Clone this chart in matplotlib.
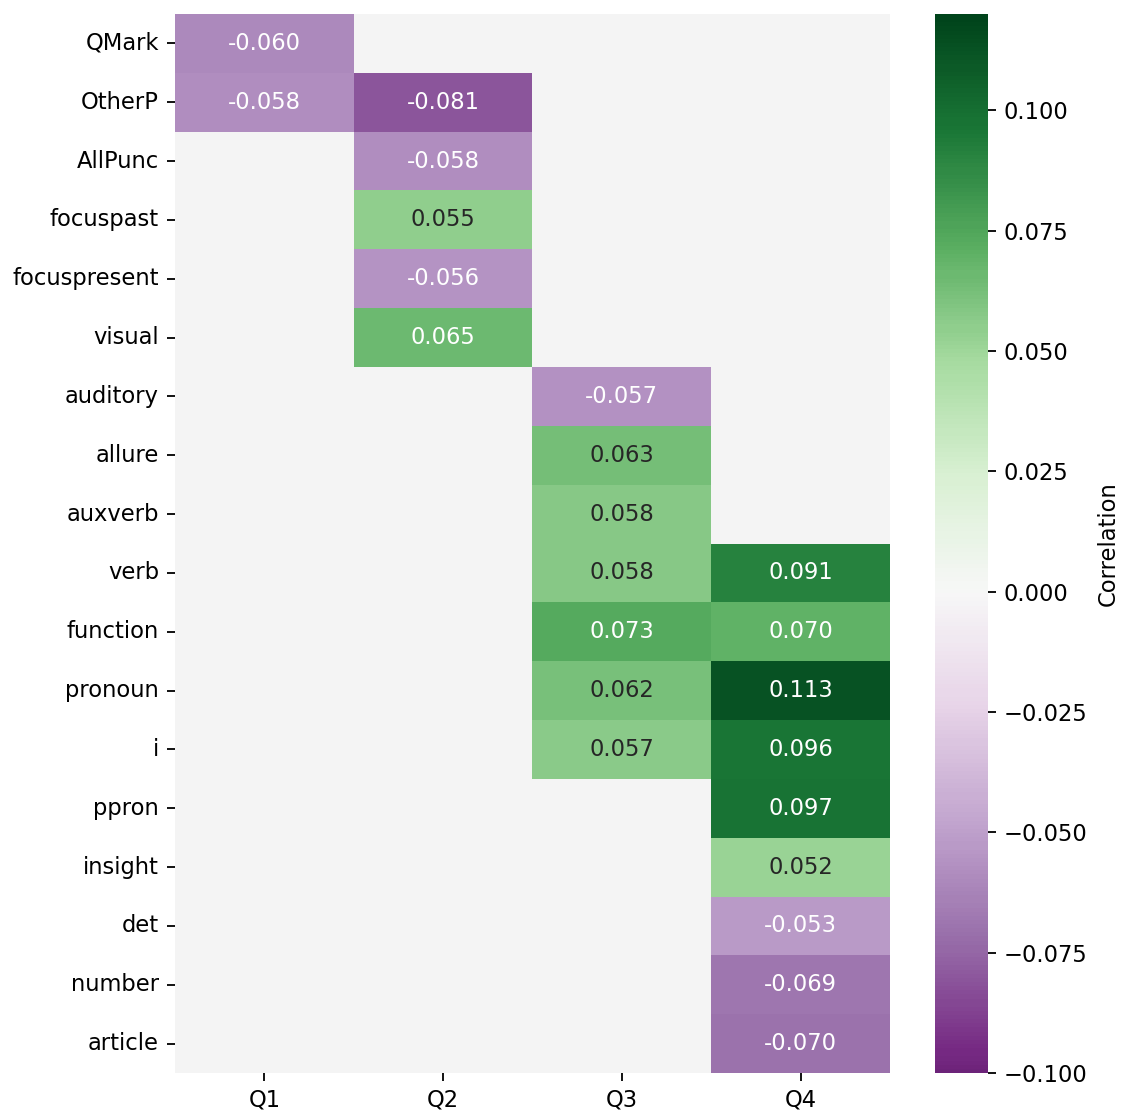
import numpy as np
import pandas as pd
import matplotlib
matplotlib.use("Agg")
import matplotlib.pyplot as plt
import seaborn as sns

# LIWC features vs. quartile correlations (only significant cells kept)
features = ["QMark", "OtherP", "AllPunc", "focuspast", "focuspresent", "visual",
            "auditory", "allure", "auxverb", "verb", "function", "pronoun",
            "i", "ppron", "insight", "det", "number", "article"]
quartiles = ["Q1", "Q2", "Q3", "Q4"]

nan = np.nan
q1 = [-0.060, -0.058, nan, nan, nan, nan, nan, nan, nan,
      nan, nan, nan, nan, nan, nan, nan, nan, nan]
q2 = [nan, -0.081, -0.058, 0.055, -0.056, 0.065, nan, nan, nan,
      nan, nan, nan, nan, nan, nan, nan, nan, nan]
q3 = [nan, nan, nan, nan, nan, nan, -0.057, 0.063, 0.058,
      0.058, 0.073, 0.062, 0.057, nan, nan, nan, nan, nan]
q4 = [nan, nan, nan, nan, nan, nan, nan, nan, nan,
      0.091, 0.070, 0.113, 0.096, 0.097, 0.052, -0.053, -0.069, -0.070]

df = pd.DataFrame({"Q1": q1, "Q2": q2, "Q3": q3, "Q4": q4}, index=features)[quartiles]

DPI = 163
fig = plt.figure(figsize=(1123 / DPI, 1111 / DPI), dpi=DPI)
ax = fig.add_axes([0.1558, 0.0342, 0.6367, 0.9532])
cax = fig.add_axes([0.8326, 0.0342, 0.0472, 0.9532])
ax.set_facecolor("#f4f4f4")

sns.heatmap(df, ax=ax, cbar_ax=cax, cmap="PRGn", center=0, vmin=-0.1, vmax=0.12,
            annot=True, fmt=".3f", annot_kws={"fontsize": 10},
            cbar_kws={"label": "Correlation"})

ax.tick_params(axis="y", rotation=0, labelsize=10)
ax.tick_params(axis="x", labelsize=10)
cax.tick_params(labelsize=10)
cax.set_ylabel("Correlation", fontsize=10)

fig.savefig("out.png", dpi=DPI)
plt.close(fig)
